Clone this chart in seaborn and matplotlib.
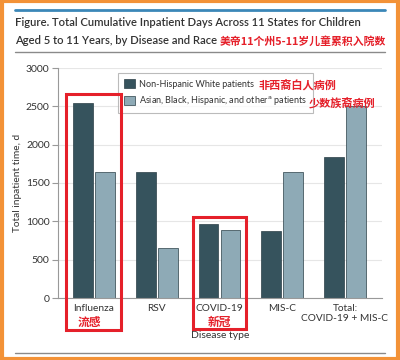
import matplotlib
matplotlib.use("Agg")
import matplotlib.pyplot as plt
import seaborn as sns
import pandas as pd
from matplotlib.patches import Rectangle
from matplotlib.lines import Line2D

categories = ["Influenza", "RSV", "COVID-19", "MIS-C", "Total:\nCOVID-19 + MIS-C"]
white_values = [2550, 1650, 970, 870, 1840]
other_values = [1650, 650, 890, 1650, 2500]
series_names = ["Non-Hispanic White patients",
                "Asian, Black, Hispanic, and other$^{\\mathrm{a}}$ patients"]
yticks = [0, 500, 1000, 1500, 2000, 2500, 3000]

df = pd.DataFrame({
    "Disease": categories * 2,
    "Value": white_values + other_values,
    "Group": [series_names[0]] * len(categories) + [series_names[1]] * len(categories),
})

sns.set_theme(style="white")
plt.rcParams["font.family"] = ["Lato", "Noto Sans CJK SC", "DejaVu Sans"]

W, H = 400, 360
fig = plt.figure(figsize=(4, 3.6), dpi=100)
fig.patch.set_facecolor("white")

def fx(x):
    return x / W

def fy(y):
    return 1 - y / H

ax = fig.add_axes([fx(58), fy(298), fx(382) - fx(58), fy(68) - fy(298)])
dark = "#36535d"
light = "#8eaab6"
sns.barplot(data=df, x="Disease", y="Value", hue="Group", hue_order=series_names,
            order=categories, palette=[dark, light], saturation=1, width=0.7, gap=0.1,
            edgecolor="#2a3f47", linewidth=0.5, ax=ax, legend=True)

ax.set_ylim(0, 3000)
ax.set_xlim(-0.574, 4.59)
ax.set_yticks(yticks)
ax.set_yticklabels([str(t) for t in yticks], fontsize=7.5, color="#333333")
ax.tick_params(axis="x", labelsize=7.3, colors="#333333", length=0, pad=4)
ax.tick_params(axis="y", left=True, length=4, width=0.8, color="#999999", pad=2)
ax.yaxis.grid(True, color="#e6e6e6", linewidth=0.8)
ax.set_axisbelow(True)
for s in ["top", "right"]:
    ax.spines[s].set_visible(False)
for s in ["left", "bottom"]:
    ax.spines[s].set_color("#999999")
    ax.spines[s].set_linewidth(0.8)
ax.set_xlabel("Disease type", fontsize=7.5, color="#333333", labelpad=6)
ax.set_ylabel("Total inpatient time, d", fontsize=7.3, color="#333333", labelpad=3)

leg = ax.legend(loc="upper left", bbox_to_anchor=(fx(118), fy(73)),
                bbox_transform=fig.transFigure, fontsize=6.5, frameon=True,
                fancybox=False, edgecolor="#aaaaaa", handlelength=1.2,
                handleheight=1.2, borderpad=0.65, labelspacing=0.65,
                handletextpad=0.5, borderaxespad=0)
leg.get_frame().set_linewidth(0.8)
for t in leg.get_texts():
    t.set_color("#333333")

red = "#e5202a"
# Title
fig.text(fx(15), fy(22), "Figure. Total Cumulative Inpatient Days Across 11 States for Children",
         fontsize=8.1, fontweight="semibold", color="#333333", va="center", ha="left")
t2 = fig.text(fx(15), fy(41), "Aged 5 to 11 Years, by Disease and Race ",
              fontsize=8.1, fontweight="semibold", color="#333333", va="center", ha="left")
fig.canvas.draw()
bb = t2.get_window_extent()
fig.text(bb.x1 / W, fy(41), "美帝11个州5-11岁儿童累积入院数",
         fontsize=7.8, fontweight="bold", color=red, va="center", ha="left",
         family=["Noto Sans CJK SC", "DejaVu Sans"])

# header lines
fig.add_artist(Line2D([fx(15), fx(385)], [fy(10), fy(10)], color="#3b87b8", linewidth=2))
fig.add_artist(Line2D([fx(15), fx(385)], [fy(52), fy(52)], color="#8a8a8a", linewidth=1))
fig.add_artist(Line2D([fx(15), fx(385)], [fy(353), fy(353)], color="#8a8a8a", linewidth=1))

# orange frame
fig.add_artist(Rectangle((0.004, 0.004), 0.992, 0.992, transform=fig.transFigure,
                         fill=False, edgecolor="#f39237", linewidth=3))

# red annotation boxes
fig.add_artist(Rectangle((fx(66), fy(330)), fx(121) - fx(66), fy(94) - fy(330),
                         transform=fig.transFigure, fill=False, edgecolor=red, linewidth=2.2))
fig.add_artist(Rectangle((fx(193), fy(329)), fx(246) - fx(193), fy(217) - fy(329),
                         transform=fig.transFigure, fill=False, edgecolor=red, linewidth=2.2))

cjk = ["Noto Sans CJK SC", "DejaVu Sans"]
fig.text(fx(89), fy(322), "流感", fontsize=8.5, color=red, ha="center", va="center", family=cjk, fontweight="bold")
fig.text(fx(219), fy(322), "新冠", fontsize=8.5, color=red, ha="center", va="center", family=cjk, fontweight="bold")
fig.text(fx(258), fy(85), "非西裔白人病例", fontsize=8, color=red, ha="left", va="center", family=cjk, fontweight="bold")
fig.text(fx(309), fy(103), "少数族裔病例", fontsize=8, color=red, ha="left", va="center", family=cjk, fontweight="bold")

fig.savefig("out.png", dpi=100)
